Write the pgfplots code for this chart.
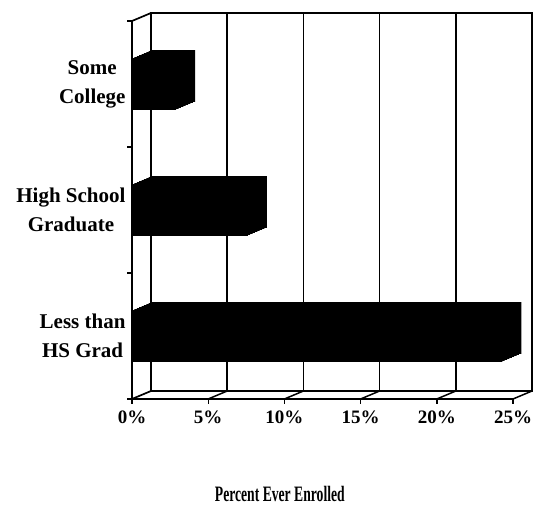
\documentclass[border=0pt]{standalone}
\usepackage{fontspec}
\setmainfont{Liberation Serif}
\usepackage{pgfplots}
\usepackage{pgfplotstable}
\pgfplotsset{compat=1.18}
\pgfplotstableread{
pos val
0 24.3
1 7.6
2 2.9
}\bardata
\begin{document}
\begin{tikzpicture}[x=1bp,y=1bp]
\useasboundingbox (0,0) rectangle (536,506);
% back wall
\begin{axis}[
  at={(151bp,115bp)}, anchor=south west,
  scale only axis, width=381bp, height=378bp,
  xmin=0, xmax=25, ymin=0, ymax=1,
  xtick={5,10,15,20}, xticklabels={}, ytick=\empty,
  major tick length=0pt,
  xmajorgrids, grid style={black, line width=1.5bp},
  axis line style={black, line width=1.7bp},
]
\end{axis}
% left wall / floor edges
\draw[line width=1.7bp] (132,485) -- (151,493);
\draw[line width=1.7bp] (132,107) -- (151,115);
\foreach \k in {1,...,5} {
  \draw[line width=1.5bp] ({132+76.2*\k},107) -- ({151+76.2*\k},115);
}
% front axis with bars
\begin{axis}[
  at={(132bp,107bp)}, anchor=south west,
  scale only axis, width=381bp, height=378bp,
  xmin=0, xmax=25, ymin=-0.5, ymax=2.5,
  clip=false,
  axis x line*=bottom, axis y line*=left,
  axis line style={black, line width=1.7bp},
  xtick={0,5,10,15,20,25},
  xticklabels={0\%,5\%,10\%,15\%,20\%,25\%},
  xticklabel style={font=\fontsize{19bp}{21bp}\selectfont\bfseries, yshift=-3bp},
  tick align=outside, major tick length=5bp,
  tick style={black, line width=1.4bp},
  ytick={-0.5,0.5,1.5,2.5}, yticklabels={},
  extra y ticks={0,1,2},
  extra y tick labels={{Less than\\HS Grad},{High School\\Graduate},{Some\\College}},
  extra y tick style={major tick length=0pt,
    yticklabel style={align=center, font=\fontsize{21bp}{29bp}\selectfont\bfseries, xshift=-3bp}},
  xlabel={\scalebox{0.62}[1]{\fontsize{22bp}{24bp}\selectfont\bfseries Percent Ever Enrolled}},
  xlabel style={at={(axis description cs:0.388,-0.251)}, anchor=center},
]
\pgfplotsinvokeforeach{0,1,2,3,4,5,6,7,8}{
  \addplot[xbar, fill=black, draw=none, bar width=0.41,
    xshift=#1*19bp/8, yshift=#1*8bp/8] table[x=val, y=pos] {\bardata};
}
\end{axis}
\end{tikzpicture}
\end{document}
